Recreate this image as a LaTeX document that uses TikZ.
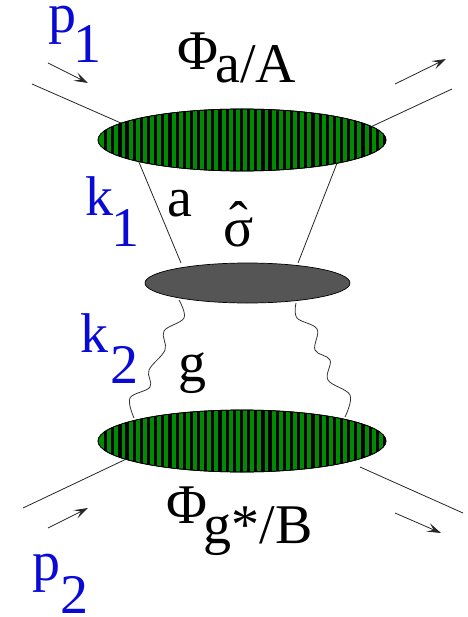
\documentclass[tikz,border=0pt]{standalone}
\usepackage{fontspec}
\setmainfont{Liberation Serif}
\usepackage{xcolor}
\usetikzlibrary{arrows.meta, shapes.geometric}
\definecolor{labelColor}{RGB}{10,10,215}
\definecolor{stripeColor}{RGB}{0,140,0}
\definecolor{blobColor}{RGB}{85,85,85}
\tikzset{
    label/.style={anchor=base west, inner sep=0pt, font=\fontsize{56}{60}\selectfont},
    momentum/.style={label, text=labelColor},
    blob/.style={ellipse, draw=black, line width=0.7pt, inner sep=0pt},
    leg/.style={line width=0.8pt, black!85},
    flow/.style={-{Stealth[length=14pt,width=9pt,inset=6pt]}, line width=0.8pt, black!85},
    wiggle/.style={line width=0.8pt, black!80, smooth, tension=0.6},
}
\begin{document}
\begin{tikzpicture}[x=1pt,y=-1pt]
    \useasboundingbox (0,0) rectangle (467,617);
    % blobs
    \node[blob, fill=stripeColor, minimum width=288pt, minimum height=62pt] (upper) at (242,140) {};
    \node[blob, fill=stripeColor, minimum width=288pt, minimum height=62pt] (lower) at (242,441) {};
    \node[blob, fill=blobColor, minimum width=205pt, minimum height=40pt] (hard) at (247.5,283) {};
    % stripes
    \foreach \blobname in {upper,lower} {
        \begin{scope}
            \path[clip] (\blobname.center) ellipse (144 and 31);
            \foreach \n in {0,...,40}
                \fill[black] ({104+7.15*\n},100) rectangle ({107.2+7.15*\n},480);
        \end{scope}
        \draw[line width=0.7pt] (\blobname.center) ellipse (144 and 31);
    }
    % outer legs
    \coordinate (inA) at (32,84);
    \coordinate (outA) at (452,89);
    \coordinate (inB) at (23,508);
    \coordinate (outB) at (463,513);
    \coordinate (outBend) at (360,467);
    \draw[leg] (inA) -- (upper.172.7);
    \draw[leg] (outA) -- (upper.6.6);
    \draw[leg] (inB) -- (lower.189.2);
    \draw[leg] (outB) -- (outBend);
    % parton a
    \coordinate (aleft) at (181,263);
    \coordinate (aright) at (298,263);
    \draw[leg] (upper.192.3) -- (aleft);
    \draw[leg] (upper.-14.5) -- (aright);
    % gluons
    \draw[wiggle] plot coordinates {(179,300) (184,318) (164,331) (165,350) (149,370) (150,387) (130,398) (134,418)};
    \draw[wiggle] plot coordinates {(296,303) (297,318) (317,329) (315,350) (330,360) (328,380) (350,395) (345,417)};
    % momentum arrows
    \coordinate (a1) at (48,63);
    \coordinate (a2) at (88,83);
    \coordinate (b1) at (395,84);
    \coordinate (b2) at (446,59);
    \coordinate (c1) at (48,528);
    \coordinate (c2) at (88,508);
    \coordinate (d1) at (395,513);
    \coordinate (d2) at (441,533);
    \draw[flow] (a1) -- (a2);
    \draw[flow] (b1) -- (b2);
    \draw[flow] (c1) -- (c2);
    \draw[flow] (d1) -- (d2);
    % labels
    \node[momentum] (pone) at (48,33) {p\hspace{-3pt}\raisebox{-30pt}{1}};
    \node[momentum] (kone) at (85,216) {k\hspace{-2pt}\raisebox{-30pt}{1}};
    \node[momentum] (ktwo) at (80,352) {k\hspace{2pt}\raisebox{-31pt}{2}};
    \node[momentum] (ptwo) at (32,580) {p\raisebox{-33pt}{2}};
    \node[label] (phiA) at (177,70) {Φ\hspace{-2.7pt}\raisebox{-13pt}{a/A}};
    \node[label] (parta) at (167,217) {a};
    \node[label] (sigma) at (223,247) {\rlap{\hspace{6pt}\raisebox{6pt}{ˆ}}σ};
    \node[label] (partg) at (178,381) {g};
    \node[label] (phiB) at (166,523) {Φ\hspace{-3.7pt}\raisebox{-20pt}{g*/B}};
\end{tikzpicture}
\end{document}
